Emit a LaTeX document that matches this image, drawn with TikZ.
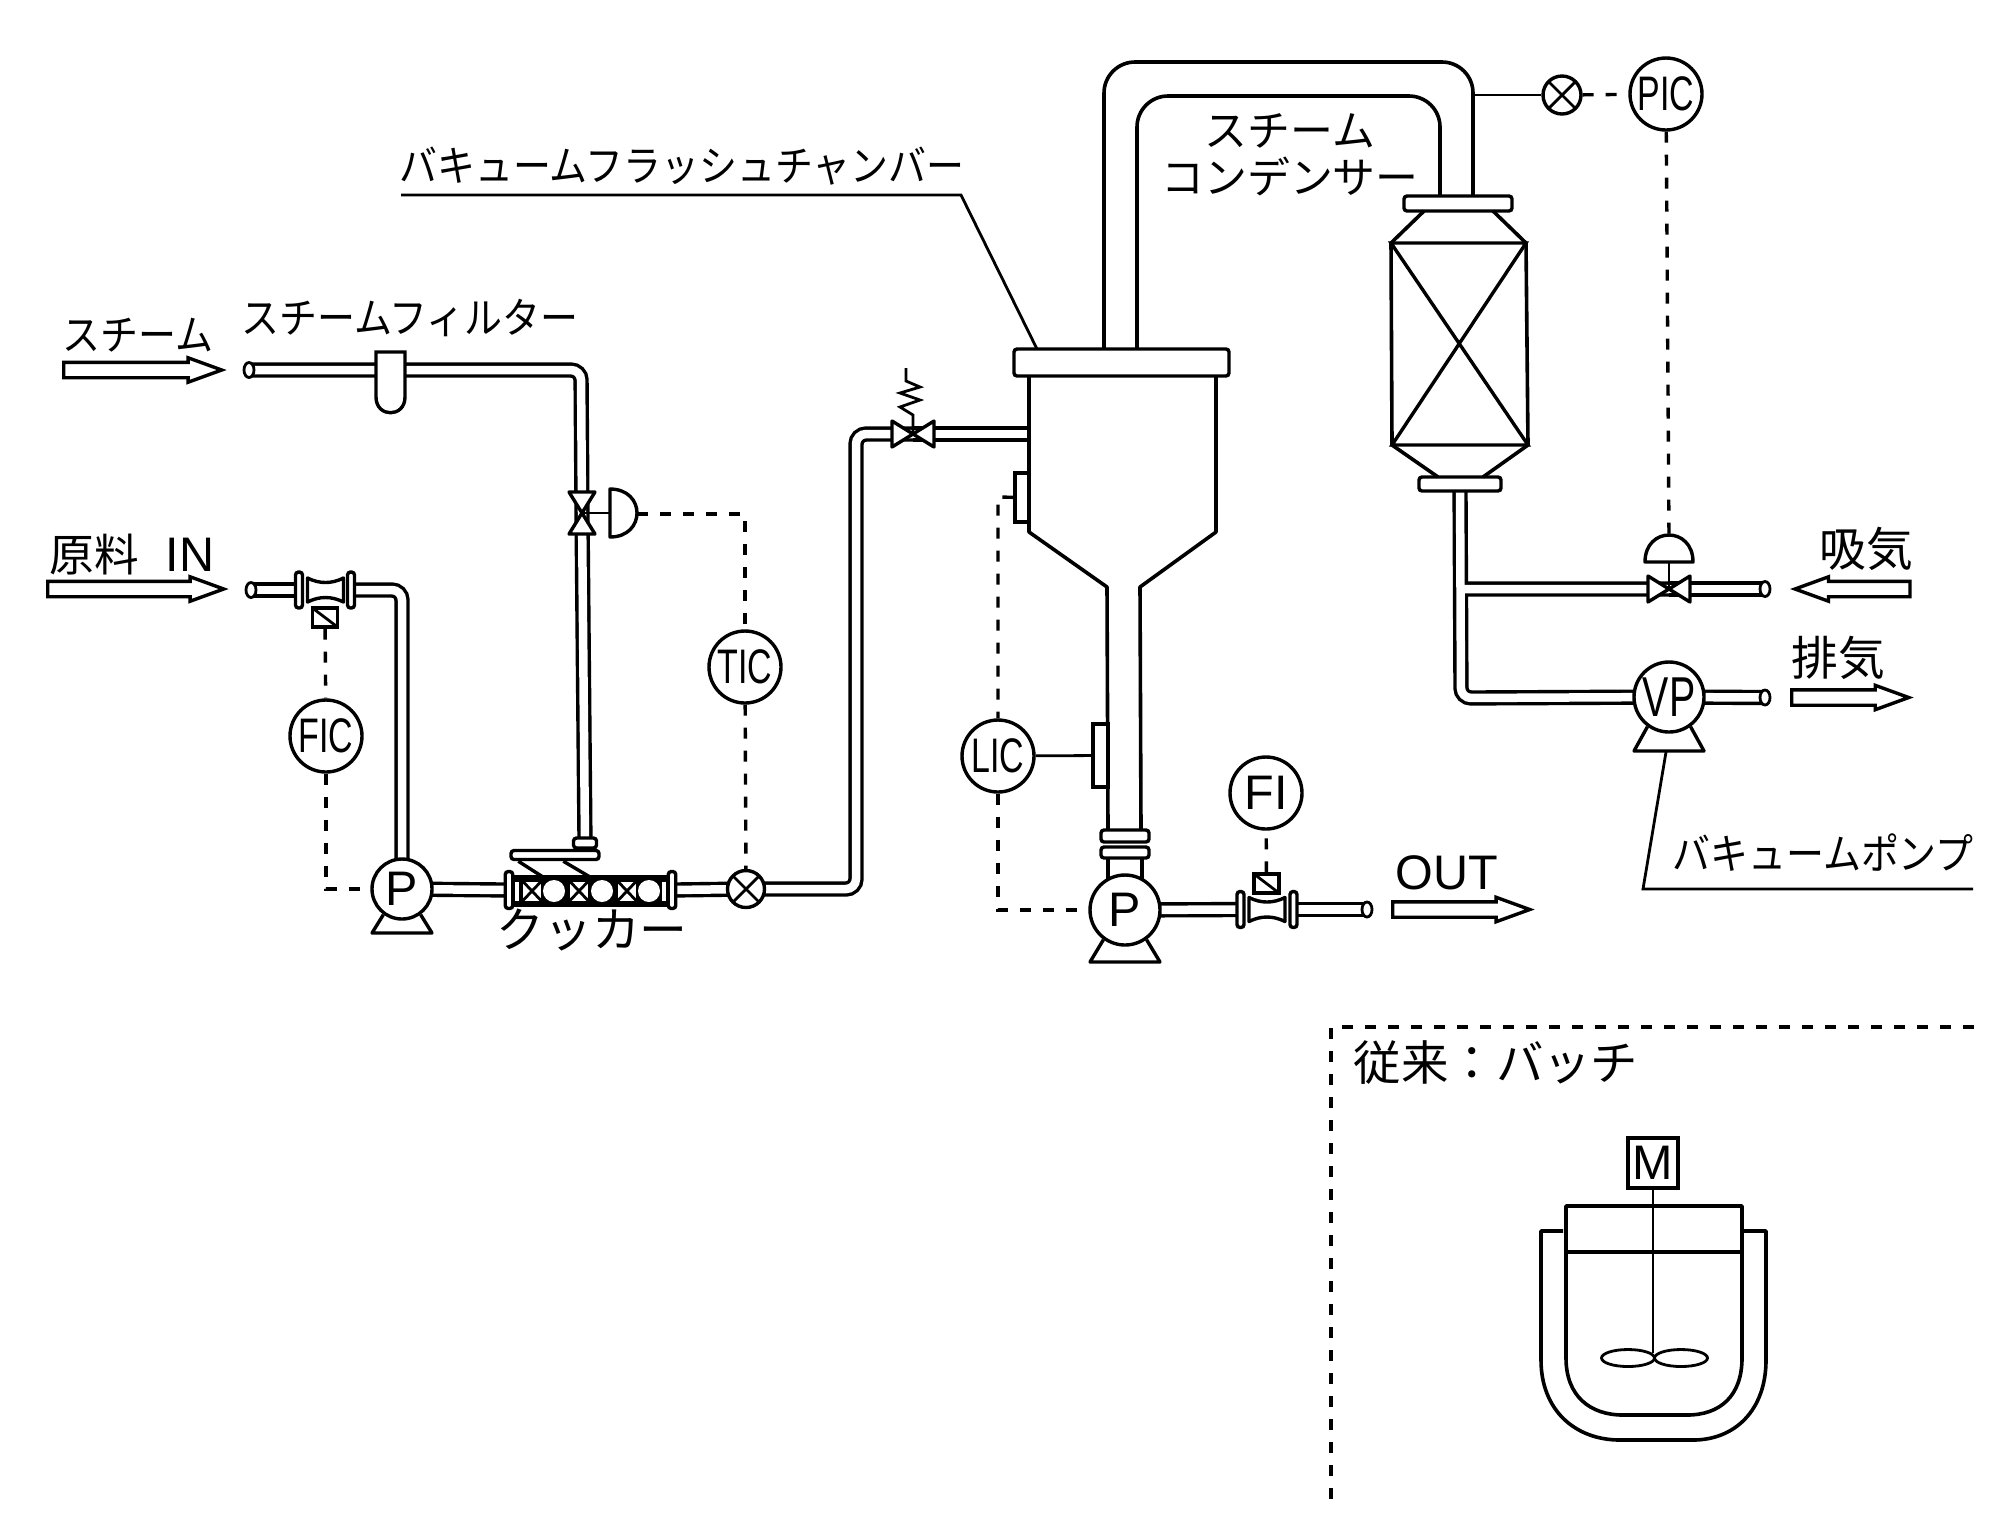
\documentclass[tikz,border=0pt]{standalone}
\usepackage{fontspec}
\setmainfont{Liberation Sans}
\newfontfamily\jpnarrow[FakeStretch=0.9]{Noto Sans CJK JP}
\newfontfamily\jpwide{Noto Sans CJK JP}
\newfontfamily\tagnarrow[FakeStretch=0.7]{Liberation Sans}
\usetikzlibrary{backgrounds,calc,shapes.geometric,shapes.arrows}
\tikzset{>=latex}
\tikzset{
	outline/.style={line width=0.34mm},
	thinline/.style={line width=0.28mm},
	pipe/.style={line width=0.34mm, double, double distance=0.85mm, rounded corners=1mm},
	vessel/.style={line width=0.36mm, line join=round},
	signal/.style={line width=0.34mm, dash pattern=on 1.1mm off 1.2mm},
	crossmark/.style={path picture={\draw[thinline] (path picture bounding box.north west) -- (path picture bounding box.south east) (path picture bounding box.north east) -- (path picture bounding box.south west);}},
	slashmark/.style={path picture={\draw[thinline] (path picture bounding box.north west) -- (path picture bounding box.south east);}},
	instrument/.style={circle, draw, outline, fill=white, inner sep=0, minimum size=7.2mm, font=\tagnarrow\fontsize{13.8pt}{14pt}\selectfont},
	pumpbody/.style={circle, draw, outline, fill=white, inner sep=0, minimum size=7mm, font=\fontsize{13.8pt}{14pt}\selectfont},
	crossvalve/.style={circle, draw, outline, fill=white, inner sep=0, minimum size=3.7mm, crossmark},
	flange/.style={rectangle, draw, outline, fill=white, inner sep=0, rounded corners=0.3mm},
	meterbox/.style={rectangle, draw, outline, fill=white, inner sep=0, minimum width=2.5mm, minimum height=1.9mm, slashmark},
	openend/.style={ellipse, draw, thinline, fill=white, inner sep=0, minimum width=1mm, minimum height=1.5mm},
	flowarrow/.style={single arrow, draw, outline, fill=white, inner sep=0, text width=0pt, text height=1.2mm, text depth=0pt, single arrow head extend=0.45mm, single arrow head indent=0pt, single arrow tip angle=40},
	narrowlabel/.style={inner sep=0, font=\jpnarrow\fontsize{12pt}{13.3pt}\selectfont},
	widelabel/.style={inner sep=0, font=\jpwide\fontsize{13.3pt}{14pt}\selectfont},
	bowtie/.pic={\draw[outline, fill=white, line join=round] (-21,-13) -- (21,13) -- (21,-13) -- (-21,13) -- cycle;},
	meterbody/.pic={\draw[outline, fill=white, line join=round] (-18,-12) .. controls (-6,-6) and (6,-6) .. (18,-12) -- (18,12) .. controls (6,6) and (-6,6) .. (-18,12) -- cycle;},
	dome/.pic={\draw[outline, fill=white, line join=round] (0,-24) .. controls (36,-24) and (36,24) .. (0,24) -- cycle;}
}
\begin{document}
\begin{tikzpicture}[x=0.1mm, y=-0.1mm]
	\useasboundingbox (0,0) rectangle (2010,1513);

	% Feed and steam side

	\node[flowarrow, minimum height=15.8mm, anchor=tail](steamarrow) at (62,370) {};
	\node[flowarrow, minimum height=17.6mm, anchor=tail](feedarrow) at (46,589) {};
	\node[openend](steamend) at (249,370) {};
	\node[openend](feedend) at (251,590) {};

	\coordinate (steamelbow) at (581,370);
	\coordinate (feedelbow) at (402,590);
	\coordinate (steamvalve) at (582,513);
	\coordinate (steamdome) at (610,513);
	\coordinate (steamtop) at (637,514);
	\coordinate (ticcorner) at (745,514);

	\node[flange, minimum width=0.7mm, minimum height=3.6mm](feedflangea) at (299,590) {};
	\node[flange, minimum width=0.7mm, minimum height=3.6mm](feedflangeb) at (351,590) {};
	\coordinate (feedmeter) at (325.5,590);
	\pic at (feedmeter) {meterbody};
	\node[meterbox](feedbox) at (325,617.5) {};

	\node[instrument](fic) at (326,736) {FIC};
	\node[instrument](tic) at (745,667) {TIC};
	\node[pumpbody, minimum size=6mm](feedpump) at (402,889) {P};
	\coordinate (ficcorner) at (326,889);
	\node[crossvalve](tempvalve) at (746,889) {};

	% Cooker

	\node[rectangle, draw, outline, fill=black, inner sep=0, minimum width=15.5mm, minimum height=2.8mm](cooker) at (590.5,891) {};
	\foreach \xpos in {532,579,627}
		\node[rectangle, fill=white, inner sep=0, minimum width=1.8mm, minimum height=1.9mm, crossmark](cross\xpos) at (\xpos,891) {};
	\foreach \xpos in {554,602,649}
		\node[circle, fill=white, inner sep=0, minimum size=2.2mm](ball\xpos) at (\xpos,891) {};
	\node[rectangle, fill=white, inner sep=0, minimum width=0.35mm, minimum height=1.9mm](slotleft) at (517,891) {};
	\node[rectangle, fill=white, inner sep=0, minimum width=0.35mm, minimum height=1.9mm](slotright) at (664,891) {};
	\node[flange, minimum width=0.75mm, minimum height=3.7mm](cookerflangea) at (509,890) {};
	\node[flange, minimum width=0.75mm, minimum height=3.7mm](cookerflangeb) at (672,890) {};
	\node[flange, minimum width=8.8mm, minimum height=0.9mm](cookerplate) at (555,855) {};
	\node[flange, minimum width=2.3mm, minimum height=1mm](cookernozzle) at (585,843) {};
	\draw[outline] (cookerplate.south west) ++(9,0) -- (543,877);
	\draw[outline] (cookerplate.south west) ++(54,0) -- (590,877);

	% Flash chamber

	\coordinate (safetyvalve) at (913,434);
	\coordinate (springbase) at (913,415);
	\coordinate (springend) at (906,368);
	\coordinate (lowerelbow) at (856,889);
	\coordinate (upperelbow) at (856,434);
	\coordinate (chamberwall) at (1029,434);

	\draw[vessel, fill=white] (1029,376) -- (1029,532) -- (1107,587) -- (1108,830) (1141,830) -- (1140,587) -- (1216,532) -- (1216,376);
	\draw[outline] (1108,858) -- (1108,880) (1142,858) -- (1142,880);
	\node[flange, minimum width=21.5mm, minimum height=2.7mm](chamberflange) at (1121.5,362.5) {};
	\node[flange, minimum width=4.8mm, minimum height=1.2mm](neckflangea) at (1125,836) {};
	\node[flange, minimum width=4.8mm, minimum height=1.1mm](neckflangeb) at (1125,852.5) {};
	\node[rectangle, draw, outline, fill=white, inner sep=0, minimum width=1.4mm, minimum height=4.9mm](levelnozzle) at (1022,497.5) {};
	\node[rectangle, draw, outline, fill=white, inner sep=0, minimum width=1.5mm, minimum height=6.3mm](necknozzle) at (1100.5,755.5) {};
	\node[instrument](lic) at (998,756) {LIC};
	\coordinate (liccornera) at (998,497);
	\coordinate (liccornerb) at (998,910);
	\node[pumpbody](outpump) at (1125,910) {P};

	% Outlet

	\node[flange, minimum width=0.7mm, minimum height=3.6mm](outflangea) at (1240.5,909.5) {};
	\node[flange, minimum width=0.7mm, minimum height=3.6mm](outflangeb) at (1293.5,909.5) {};
	\coordinate (outmeter) at (1267,909.5);
	\pic at (outmeter) {meterbody};
	\node[meterbox](outbox) at (1266.5,883.5) {};
	\node[instrument, font=\fontsize{13.8pt}{14pt}\selectfont](fi) at (1266,793) {FI};
	\node[openend](outend) at (1367,909.5) {};
	\node[flowarrow, minimum height=13.7mm, anchor=tail](outarrow) at (1391,909.5) {};

	% Condenser

	\node[flange, minimum width=10.8mm, minimum height=1.5mm](condtop) at (1458,203.5) {};
	\node[flange, minimum width=8.2mm, minimum height=1.4mm](condbottom) at (1460,484) {};
	\draw[vessel] (1424,211) -- (1391,243) -- (1392,445) -- (1438,477) (1483,477) -- (1528,445) -- (1526,243) -- (1493,211);
	\draw[outline] (1391,243) -- (1526,243) -- (1392,445) -- (1528,445) -- cycle;

	\coordinate (vaportap) at (1473,95);
	\node[crossvalve, minimum size=3.8mm](pressvalve) at (1562,95) {};
	\node[instrument](picctl) at (1666,94) {PIC};
	\coordinate (vacvalve) at (1669,589);
	\coordinate (vacdome) at (1669,562);
	\coordinate (vactop) at (1669,538);
	\coordinate (teepoint) at (1461,589);
	\coordinate (condelbow) at (1461,698);
	\node[pumpbody, font=\tagnarrow\fontsize{16pt}{16pt}\selectfont](vacpump) at (1669,697) {VP};
	\node[openend](intakeend) at (1765,589) {};
	\node[openend](exhaustend) at (1765,697.5) {};
	\node[flowarrow, minimum height=11.5mm, anchor=tip, shape border rotate=180](intakearrow) at (1790,589) {};
	\node[flowarrow, minimum height=11.7mm, anchor=tail](exhaustarrow) at (1790,697.5) {};

	\pic at (steamvalve) [rotate=90] {bowtie};
	\pic at (steamdome) {dome};
	\pic at (safetyvalve) {bowtie};
	\pic at (vacvalve) {bowtie};
	\pic at (vacdome) [rotate=90] {dome};

	% Pump feet

	\foreach \pump/\footx/\footy in {feedpump/30/44, outpump/35/52, vacpump/35/54}
		\draw[outline, line join=round] (\pump.-126) -- ($(\pump)+(-\footx,\footy)$) -- ($(\pump)+(\footx,\footy)$) -- (\pump.-54);

	% Filter

	\draw[outline, fill=white] (376,352) -- (376,397) .. controls (376,418) and (405,418) .. (405,397) -- (405,352) -- cycle;

	% Batch vessel

	\node[rectangle, draw, outline, fill=white, inner sep=0, minimum size=5mm, font=\fontsize{13.8pt}{14pt}\selectfont](motor) at (1653,1163) {M};
	\coordinate (impeller) at (1653,1353);
	\node[ellipse, draw, thinline, inner sep=0, minimum width=5.3mm, minimum height=1.7mm](bladeleft) at (1628,1358) {};
	\node[ellipse, draw, thinline, inner sep=0, minimum width=5.3mm, minimum height=1.7mm](bladeright) at (1681,1358) {};
	\draw[vessel] (1566,1206) -- (1566,1358) .. controls (1566,1396) and (1590,1415) .. (1623,1415) -- (1687,1415) .. controls (1720,1415) and (1742,1396) .. (1742,1358) -- (1742,1206) -- cycle;
	\draw[vessel] (1566,1252) -- (1742,1252);
	\draw[vessel] (1563,1231) -- (1541,1231) -- (1541,1360) .. controls (1541,1410) and (1575,1440) .. (1620,1440) -- (1693,1440) .. controls (1735,1440) and (1766,1410) .. (1766,1360) -- (1766,1231) -- (1742,1231);
	\draw[thinline] (motor) -- (impeller);
	\coordinate (batchcorner) at (1331,1027);
	\coordinate (batchright) at (1974,1027);
	\coordinate (batchbottom) at (1331,1506);
	\draw[signal, line cap=butt] (batchright) -- (batchcorner) -- (batchbottom);

	% Labels

	\node[narrowlabel](steamlabel) at (138,335) {スチーム};
	\node[narrowlabel](filterlabel) at (410,318) {スチームフィルター};
	\node[widelabel, font=\jpwide\fontsize{12.7pt}{14pt}\selectfont, anchor=west](feedlabel) at (49,555) {原料\hspace{2.7mm}\normalfont\fontsize{13.8pt}{14pt}\selectfont IN};
	\node[narrowlabel](chamberlabel) at (682,166) {バキュームフラッシュチャンバー};
	\node[narrowlabel, font=\jpwide\fontsize{12.2pt}{13.3pt}\selectfont, align=center](condlabel) at (1290,155) {スチーム\\コンデンサー};
	\node[widelabel, font=\jpwide\fontsize{13.6pt}{14pt}\selectfont](cookerlabel) at (592,930) {クッカー};
	\node[inner sep=0, font=\fontsize{13.8pt}{14pt}\selectfont](outlabel) at (1447,873) {OUT};
	\node[widelabel](intakelabel) at (1866,549) {吸気};
	\node[widelabel](exhaustlabel) at (1838,658) {排気};
	\node[narrowlabel](vaclabel) at (1823,853) {バキュームポンプ};
	\node[widelabel, font=\jpwide\fontsize{13.5pt}{14pt}\selectfont](batchlabel) at (1496,1063) {従来：バッチ};

	\coordinate (chamberunder) at (961,195);
	\coordinate (chamberstart) at (401,195);
	\coordinate (chamberpoint) at (1037,349);
	\draw[thinline] (chamberstart) -- (chamberunder) -- (chamberpoint);
	\coordinate (vacunder) at (1643,889);
	\coordinate (vacstart) at (1973,889);
	\coordinate (vacpoint) at (1666,752);
	\draw[thinline] (vacstart) -- (vacunder) -- (vacpoint);

	% Signals

	\draw[signal] (feedbox) -- (fic);
	\draw[signal] (fic) -- (ficcorner) -- (feedpump);
	\draw[signal] (steamtop) -- (ticcorner) -- (tic);
	\draw[signal] (tic) -- (tempvalve);
	\draw[signal] (levelnozzle) -- (liccornera) -- (lic);
	\draw[signal] (lic) -- (liccornerb) -- (outpump);
	\draw[signal] (outbox) -- (fi);
	\draw[signal] (pressvalve) -- (picctl);
	\draw[signal] (picctl) -- (vactop);
	\draw[thinline] (lic) -- (necknozzle);
	\draw[thinline] (steamvalve) -- (steamdome);
	\draw[thinline] (vacvalve) -- (vacdome);
	\draw[thinline] (vaportap) -- (pressvalve);
	\draw[thinline] (safetyvalve) -- (springbase) -- (900,407) -- (920,400) -- (900,393) -- (920,387) -- (906,381) -- (springend);

	% Pipes

	\begin{scope}[on background layer]
		\draw[pipe] (steamend.center) -- (steamelbow) -- (steamvalve);
		\draw[pipe] (steamvalve) -- (cookernozzle.center);
		\draw[pipe] (feedend.center) -- (feedflangea.center);
		\draw[pipe] (feedflangeb.center) -- (feedelbow) -- (feedpump.center);
		\draw[pipe] (feedpump.center) -- (cookerflangea.center);
		\draw[pipe] (cookerflangeb.center) -- (tempvalve.center) -- (lowerelbow) -- (upperelbow) -- (safetyvalve);
		\draw[pipe] (safetyvalve) -- (chamberwall);
		\draw[pipe] (outpump.center) -- (outflangea.center);
		\draw[pipe] (outflangeb.center) -- (outend.center);
		\draw[pipe] (condbottom.center) -- (condelbow) -- (vacpump.center) (teepoint) -- (vacvalve);
		\draw[pipe] (vacvalve) -- (intakeend.center);
		\draw[pipe] (vacpump.center) -- (exhaustend.center);
		\draw[vessel, rounded corners=3.1mm] (1104,349) -- (1104,62) -- (1473,62) -- (1473,196);
		\draw[vessel, rounded corners=3.1mm] (1137,349) -- (1137,96) -- (1440,96) -- (1440,196);
	\end{scope}

\end{tikzpicture}
\end{document}
